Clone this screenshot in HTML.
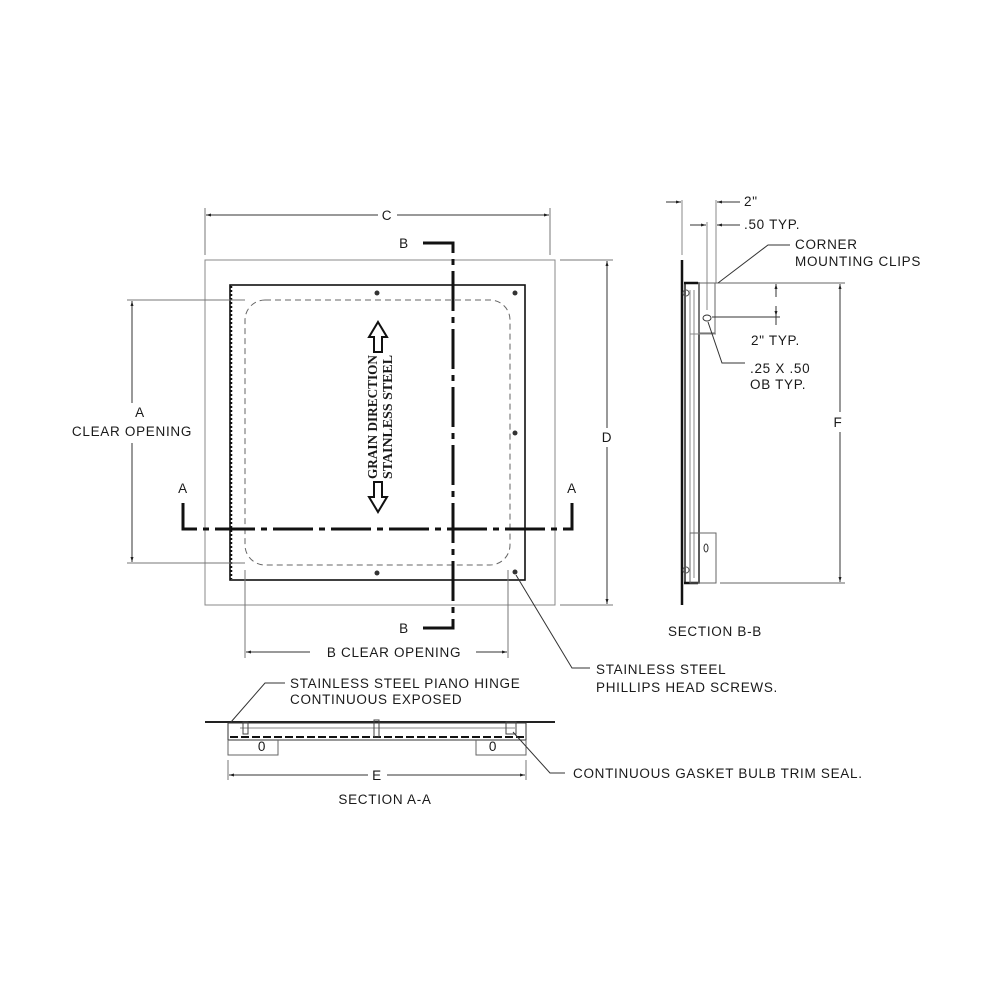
<!DOCTYPE html>
<html><head><meta charset="utf-8"><style>
html,body{margin:0;padding:0;background:#fff;}
svg{display:block;}
text{font-family:"Liberation Sans",sans-serif;font-size:13.5px;letter-spacing:0.7px;fill:#1a1a1a;}
.s{font-family:"Liberation Serif",serif;font-size:14px;letter-spacing:0;font-weight:bold;}
</style></head><body>
<svg width="1000" height="1000" viewBox="0 0 1000 1000" xmlns="http://www.w3.org/2000/svg">
<defs>
<marker id="ar" viewBox="0 0 10 10" refX="10" refY="5" markerWidth="7" markerHeight="5" orient="auto-start-reverse"><path d="M0,2 L10,5 L0,8 z" fill="#222"/></marker>
</defs>
<g fill="none" stroke="#333" stroke-width="1">
<rect x="205" y="260" width="350" height="345" stroke="#888"/>
<rect x="230" y="285" width="295" height="295" stroke="#111" stroke-width="1.6"/>
<line x1="231" y1="286" x2="231" y2="579" stroke="#111" stroke-width="2.5" stroke-dasharray="2,2"/>
<rect x="245" y="300" width="265" height="265" rx="20" stroke="#666" stroke-dasharray="6,4"/>
<line x1="205" y1="208" x2="205" y2="255" stroke="#777"/>
<line x1="550" y1="208" x2="550" y2="255" stroke="#777"/>
<line x1="206" y1="215" x2="378" y2="215" marker-start="url(#ar)"/>
<line x1="397" y1="215" x2="549" y2="215" marker-end="url(#ar)"/>
<line x1="560" y1="260" x2="613" y2="260" stroke="#777"/>
<line x1="560" y1="605" x2="613" y2="605" stroke="#777"/>
<line x1="607" y1="261" x2="607" y2="428" marker-start="url(#ar)"/>
<line x1="607" y1="447" x2="607" y2="604" marker-end="url(#ar)"/>
<line x1="127" y1="300" x2="245" y2="300" stroke="#777"/>
<line x1="127" y1="563" x2="245" y2="563" stroke="#777"/>
<line x1="132" y1="301" x2="132" y2="403" marker-start="url(#ar)"/>
<line x1="132" y1="443" x2="132" y2="562" marker-end="url(#ar)"/>
<line x1="245" y1="570" x2="245" y2="658" stroke="#777"/>
<line x1="508" y1="570" x2="508" y2="658" stroke="#777"/>
<line x1="246" y1="652" x2="310" y2="652" marker-start="url(#ar)"/>
<line x1="476" y1="652" x2="507" y2="652" marker-end="url(#ar)"/>
<path d="M423,243 H453 V628 H423" stroke="#111" stroke-width="3" stroke-dasharray="40,6,6,6"/>
<path d="M183,503 V529 H572 V503" stroke="#111" stroke-width="3" stroke-dasharray="40,6,6,6"/>
<polyline points="516,575 572,668 590,668" stroke="#333"/>
<path d="M378,322 L387,337 L382,337 L382,352 L374,352 L374,337 L369,337 Z" stroke="#111" stroke-width="2"/>
<path d="M378,512 L387,497 L382,497 L382,482 L374,482 L374,497 L369,497 Z" stroke="#111" stroke-width="2"/>

<line x1="682" y1="260" x2="682" y2="605" stroke="#111" stroke-width="2.5"/>
<line x1="682" y1="200" x2="682" y2="255" stroke="#888"/>
<line x1="716" y1="200" x2="716" y2="283" stroke="#888"/>
<line x1="707" y1="222" x2="707" y2="310" stroke="#888"/>
<line x1="666" y1="202" x2="681" y2="202" marker-end="url(#ar)"/>
<line x1="740" y1="202" x2="717" y2="202" marker-end="url(#ar)"/>
<line x1="690" y1="225" x2="706" y2="225" marker-end="url(#ar)"/>
<line x1="740" y1="225" x2="717" y2="225" marker-end="url(#ar)"/>
<rect x="685" y="283" width="14" height="300" stroke="#222" stroke-width="1.5"/>
<line x1="690" y1="290" x2="690" y2="578" stroke="#888"/>
<line x1="694" y1="290" x2="694" y2="578" stroke="#888"/>
<line x1="685" y1="283" x2="845" y2="283" stroke="#666"/>
<line x1="720" y1="583" x2="845" y2="583" stroke="#666"/>
<line x1="684" y1="583" x2="698" y2="583" stroke="#111" stroke-width="2.5"/>
<line x1="684" y1="283" x2="698" y2="283" stroke="#111" stroke-width="2.5"/>
<rect x="699" y="283" width="16" height="50" stroke="#666"/>
<line x1="690" y1="334" x2="716" y2="334" stroke="#888"/>
<ellipse cx="707" cy="318" rx="4" ry="3"/>
<rect x="690" y="533" width="26" height="50" stroke="#666"/>
<ellipse cx="706" cy="548" rx="2" ry="4"/>
<circle cx="686" cy="293" r="3" stroke="#555"/>
<circle cx="686" cy="570" r="3" stroke="#555"/>
<line x1="776" y1="297" x2="776" y2="284" marker-end="url(#ar)"/>
<line x1="776" y1="306" x2="776" y2="316" marker-end="url(#ar)"/>
<line x1="776" y1="316" x2="776" y2="325"/>
<line x1="712" y1="317" x2="780" y2="317"/>
<line x1="840" y1="284" x2="840" y2="412" marker-start="url(#ar)"/>
<line x1="840" y1="432" x2="840" y2="582" marker-end="url(#ar)"/>
<polyline points="718,283 768,245 790,245"/>
<polyline points="708,322 722,363 745,363"/>

<line x1="205" y1="722" x2="555" y2="722" stroke="#222" stroke-width="2"/>
<rect x="228" y="723" width="298" height="17" stroke="#333"/>
<line x1="230" y1="737" x2="524" y2="737" stroke="#111" stroke-width="2" stroke-dasharray="8,3"/>
<line x1="240" y1="728" x2="515" y2="728" stroke="#888"/>
<path d="M228,740 V755 H278 V740" stroke="#666"/>
<path d="M476,740 V755 H526 V740" stroke="#666"/>
<rect x="243" y="722" width="5" height="12" stroke="#444"/>
<rect x="374" y="720" width="5" height="17" stroke="#444"/>
<rect x="506" y="722" width="10" height="12" stroke="#444"/>
<line x1="228" y1="760" x2="228" y2="780" stroke="#777"/>
<line x1="526" y1="760" x2="526" y2="780" stroke="#777"/>
<line x1="229" y1="775" x2="368" y2="775" marker-start="url(#ar)"/>
<line x1="387" y1="775" x2="525" y2="775" marker-end="url(#ar)"/>
<polyline points="231,722 265,683 285,683"/>
<polyline points="513,732 550,773 565,773"/>
</g>
<circle cx="377" cy="293" r="2.5" fill="#333"/>
<circle cx="515" cy="293" r="2.5" fill="#333"/>
<circle cx="515" cy="433" r="2.5" fill="#333"/>
<circle cx="377" cy="573" r="2.5" fill="#333"/>
<circle cx="515" cy="572" r="2.5" fill="#333"/>

<text x="387" y="220" text-anchor="middle">C</text>
<text x="607" y="442" text-anchor="middle">D</text>
<text x="140" y="417" text-anchor="middle">A</text>
<text x="132" y="436" text-anchor="middle">CLEAR OPENING</text>
<text x="394" y="657" text-anchor="middle">B   CLEAR OPENING</text>
<text x="404" y="248" text-anchor="middle">B</text>
<text x="404" y="633" text-anchor="middle">B</text>
<text x="183" y="493" text-anchor="middle">A</text>
<text x="572" y="493" text-anchor="middle">A</text>
<text x="596" y="674">STAINLESS STEEL</text>
<text x="596" y="692">PHILLIPS HEAD SCREWS.</text>
<text class="s" transform="translate(377,417) rotate(-90)" text-anchor="middle" textLength="124" lengthAdjust="spacingAndGlyphs">GRAIN DIRECTION</text>
<text class="s" transform="translate(392,417) rotate(-90)" text-anchor="middle" textLength="124" lengthAdjust="spacingAndGlyphs">STAINLESS STEEL</text>

<text x="744" y="206">2"</text>
<text x="744" y="229">.50 TYP.</text>
<text x="795" y="249">CORNER</text>
<text x="795" y="266">MOUNTING CLIPS</text>
<text x="751" y="345">2" TYP.</text>
<text x="750" y="373">.25 X .50</text>
<text x="750" y="389">OB TYP.</text>
<text x="838" y="427" text-anchor="middle">F</text>
<text x="715" y="636" text-anchor="middle">SECTION B-B</text>

<text x="290" y="688">STAINLESS STEEL PIANO HINGE</text>
<text x="290" y="704">CONTINUOUS EXPOSED</text>
<text x="262" y="751" font-size="10" text-anchor="middle">0</text>
<text x="493" y="751" font-size="10" text-anchor="middle">0</text>
<text x="377" y="780" text-anchor="middle">E</text>
<text x="385" y="804" text-anchor="middle">SECTION A-A</text>
<text x="573" y="778">CONTINUOUS GASKET BULB TRIM SEAL.</text>
</svg>
</body></html>
